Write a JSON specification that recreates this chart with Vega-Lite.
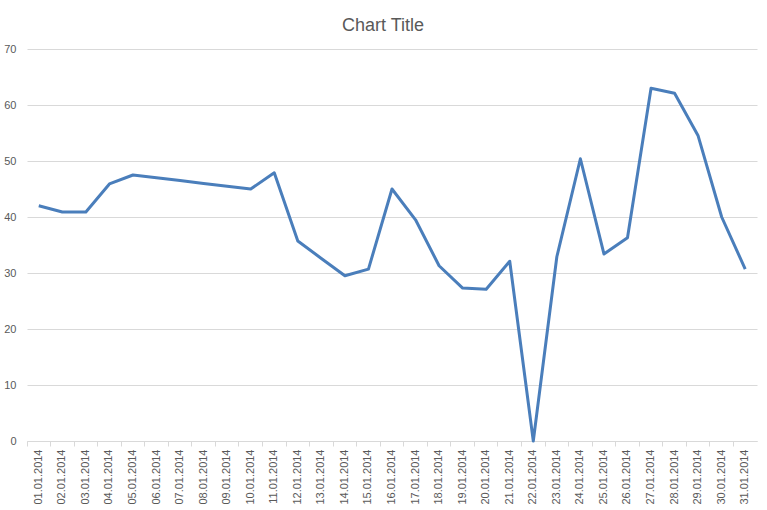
{
  "$schema": "https://vega.github.io/schema/vega-lite/v6.json",
  "width": 730,
  "height": 392,
  "autosize": {"type": "none"},
  "padding": {"left": 27, "top": 49, "right": 10, "bottom": 69},
  "background": "white",
  "config": {
    "font": "Liberation Sans",
    "view": {"stroke": null}
  },
  "title": {
    "text": "Chart Title",
    "fontSize": 18,
    "fontWeight": "normal",
    "color": "#595959",
    "anchor": "middle",
    "baseline": "alphabetic",
    "offset": -6,
    "dx": -9
  },
  "data": {
    "values": [
      {"date": "01.01.2014", "value": 42.0},
      {"date": "02.01.2014", "value": 40.9},
      {"date": "03.01.2014", "value": 40.9},
      {"date": "04.01.2014", "value": 45.9},
      {"date": "05.01.2014", "value": 47.5},
      {"date": "06.01.2014", "value": 47.0},
      {"date": "07.01.2014", "value": 46.5},
      {"date": "08.01.2014", "value": 46.0},
      {"date": "09.01.2014", "value": 45.5},
      {"date": "10.01.2014", "value": 45.0},
      {"date": "11.01.2014", "value": 47.9},
      {"date": "12.01.2014", "value": 35.7},
      {"date": "13.01.2014", "value": 32.6},
      {"date": "14.01.2014", "value": 29.5},
      {"date": "15.01.2014", "value": 30.7},
      {"date": "16.01.2014", "value": 45.0},
      {"date": "17.01.2014", "value": 39.5},
      {"date": "18.01.2014", "value": 31.3},
      {"date": "19.01.2014", "value": 27.3},
      {"date": "20.01.2014", "value": 27.1},
      {"date": "21.01.2014", "value": 32.1},
      {"date": "22.01.2014", "value": 0},
      {"date": "23.01.2014", "value": 32.9},
      {"date": "24.01.2014", "value": 50.4},
      {"date": "25.01.2014", "value": 33.4},
      {"date": "26.01.2014", "value": 36.3},
      {"date": "27.01.2014", "value": 63.0},
      {"date": "28.01.2014", "value": 62.1},
      {"date": "29.01.2014", "value": 54.5},
      {"date": "30.01.2014", "value": 40.0},
      {"date": "31.01.2014", "value": 30.7}
    ]
  },
  "mark": {"type": "line", "color": "#4a7ebb", "strokeWidth": 3, "strokeJoin": "round"},
  "encoding": {
    "x": {
      "field": "date",
      "type": "ordinal",
      "sort": null,
      "title": null,
      "scale": {"type": "band", "paddingInner": 0, "paddingOuter": 0},
      "axis": {
        "labelAngle": -90,
        "labelFontSize": 11,
        "labelColor": "#595959",
        "labelPadding": 3,
        "bandPosition": 0,
        "domainColor": "#d9d9d9",
        "tickColor": "#d9d9d9",
        "tickSize": 5,
        "grid": false
      }
    },
    "y": {
      "field": "value",
      "type": "quantitative",
      "title": null,
      "scale": {"domain": [0, 70], "nice": false},
      "axis": {
        "values": [0, 10, 20, 30, 40, 50, 60, 70],
        "labelFontSize": 11,
        "labelColor": "#595959",
        "labelPadding": 11,
        "domain": false,
        "ticks": false,
        "gridColor": "#d9d9d9"
      }
    }
  }
}
